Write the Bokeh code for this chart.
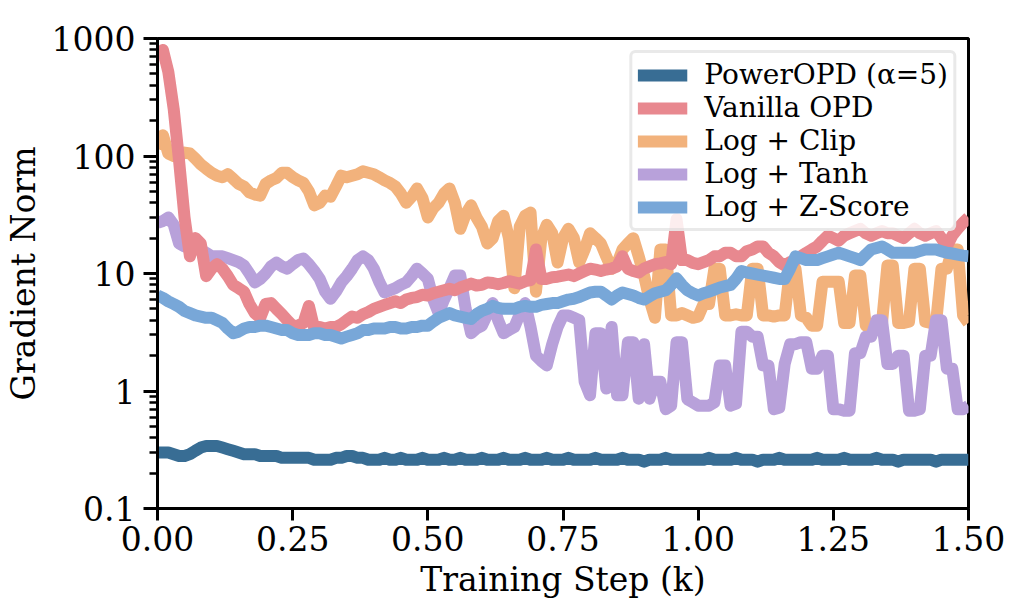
import numpy as np
from bokeh.plotting import figure
from bokeh.models import (FixedTicker, CustomJSTickFormatter, Legend, LegendItem,
                          Range1d, ColumnDataSource)
from bokeh.embed import file_html
from bokeh.resources import INLINE

# ---- data (training step in thousands, gradient norm), one value per 0.01k ----
steps = np.round(np.arange(151) * 0.01, 2)

power_opd = [0.30, 0.30, 0.30, 0.29, 0.28, 0.28, 0.29, 0.31, 0.33, 0.34,
             0.34, 0.34, 0.33, 0.32, 0.31, 0.30, 0.29, 0.29, 0.29, 0.28,
             0.28, 0.28, 0.28, 0.27, 0.27, 0.27, 0.27, 0.27, 0.27, 0.26,
             0.26, 0.26, 0.26, 0.27, 0.27, 0.28, 0.28, 0.27, 0.27, 0.26,
             0.26, 0.26, 0.27, 0.26, 0.26, 0.27, 0.26, 0.26, 0.26, 0.27,
             0.26, 0.26, 0.26, 0.27, 0.26, 0.26, 0.27, 0.26, 0.26, 0.26,
             0.27, 0.26, 0.26, 0.26, 0.27, 0.26, 0.26, 0.26, 0.27, 0.26,
             0.26, 0.26, 0.27, 0.26, 0.26, 0.26, 0.27, 0.26, 0.26, 0.26,
             0.26, 0.27, 0.26, 0.26, 0.26, 0.26, 0.27, 0.26, 0.26, 0.26,
             0.25, 0.26, 0.26, 0.26, 0.27, 0.26, 0.26, 0.26, 0.26, 0.26,
             0.26, 0.26, 0.27, 0.26, 0.26, 0.26, 0.26, 0.27, 0.26, 0.26,
             0.26, 0.25, 0.26, 0.26, 0.26, 0.27, 0.26, 0.26, 0.26, 0.26,
             0.26, 0.26, 0.27, 0.26, 0.26, 0.26, 0.26, 0.27, 0.26, 0.26,
             0.26, 0.26, 0.26, 0.27, 0.26, 0.26, 0.26, 0.25, 0.26, 0.26,
             0.26, 0.26, 0.26, 0.26, 0.25, 0.26, 0.26, 0.26, 0.26, 0.26,
             0.26]

vanilla_opd = [700, 800, 520, 250, 90, 30, 14, 20, 18, 9.5,
               11, 12, 11, 9.5, 8, 7.5, 7, 5.5, 4.6, 4.2,
               5.5, 5.6, 5.0, 4.5, 4.0, 3.6, 3.6, 3.8, 5.3, 3.4,
               3.5, 3.4, 3.5, 3.5, 3.7, 4.0, 4.3, 4.2, 4.5, 4.7,
               5.0, 5.2, 5.4, 5.6, 5.8, 5.6, 6.0, 6.2, 6.3, 6.6,
               6.5, 6.8, 7.0, 7.2, 7.4, 7.2, 7.6, 7.9, 8.2, 7.9,
               8.0, 8.4, 8.3, 8.1, 8.3, 8.6, 8.4, 8.2, 8.6, 8.8,
               16, 9.0, 9.0, 9.3, 9.4, 9.6, 9.8, 9.5, 10, 10.5,
               11, 10.8, 10.5, 10.8, 11, 11.5, 14, 11, 10.5, 10.2,
               11, 11.5, 12, 12.2, 12.5, 12, 29, 13, 13, 12.3,
               12, 12.5, 13, 14, 14, 15, 15, 14, 14, 15.5,
               16, 17, 17, 15, 14, 12.5, 11.7, 12.5, 13, 14,
               15, 16, 17, 19, 21, 20, 19, 21, 22, 23,
               24, 22, 21, 22, 23, 22, 22, 21, 20, 22,
               24, 22, 21, 22, 23, 20, 17, 21, 24, 27,
               30]

log_clip = [115, 150, 105, 100, 100, 107, 105, 95, 85, 78,
            72, 68, 66, 70, 64, 58, 55, 49, 47, 46,
            58, 62, 65, 72, 72, 66, 62, 59, 50, 38,
            40, 46, 45, 55, 68, 66, 68, 70, 74, 72,
            70, 66, 62, 59, 55, 48, 40, 45, 53, 44,
            30, 36, 40, 48, 53, 40, 24, 32, 38, 30,
            25, 18, 20, 28, 31, 20, 7.5, 25, 31, 33,
            7.0, 20, 26, 22, 12.4, 20, 24, 20, 12.4, 16,
            22, 20, 18, 14, 11, 12, 16, 18, 20, 14,
            9.6, 6, 4.2, 16, 16, 4.4, 4.4, 4.6, 4.4, 4.2,
            4.3, 5.5, 5.5, 11, 11, 4.4, 4.4, 4.5, 4.4, 4.4,
            11, 11, 4.4, 4.4, 4.3, 4.4, 4.4, 11, 11, 4.4,
            4.2, 3.6, 3.6, 8.5, 8.5, 8.5, 8.5, 3.8, 3.8, 9.6,
            9.6, 3.6, 3.6, 3.8, 3.8, 11.7, 11.7, 3.8, 3.8, 3.9,
            11, 11, 3.9, 3.8, 3.8, 11, 11, 16, 16, 4.4,
            3.8]

log_tanh = [27, 28, 30, 26, 18, 17, 17, 17, 16, 15,
            14, 14, 14, 13.5, 13, 12.5, 11.7, 10, 8.4, 9,
            10, 11.5, 12.4, 11.5, 11, 12, 13, 13.4, 12, 10.5,
            9, 7, 6.1, 7, 8.4, 9.5, 11, 13, 14, 13,
            11, 8.5, 6.9, 7.2, 7.5, 8, 8.4, 9.5, 11, 10,
            9, 6, 4.6, 6, 7.5, 9.6, 9.6, 5, 3.1, 3.4,
            3.6, 4.5, 5.6, 4, 3.1, 3.3, 3.5, 4.5, 5.6, 3.5,
            2.0, 1.8, 1.65, 2.5, 3.5, 4.4, 4.4, 4.2, 4.0, 1.2,
            0.92, 3.1, 3.1, 1.05, 3.5, 0.92, 0.92, 2.6, 2.6, 0.86,
            2.5, 0.86, 1.2, 1.2, 0.7, 0.75, 2.6, 2.6, 0.85, 0.8,
            0.75, 0.75, 0.75, 0.8, 1.65, 1.65, 0.75, 0.78, 3.2, 3.2,
            2.9, 2.9, 1.65, 1.65, 0.7, 0.72, 1.7, 2.5, 2.5, 2.6,
            2.6, 1.55, 1.55, 2.0, 2.0, 0.7, 0.7, 0.68, 0.68, 2.1,
            2.1, 2.9, 2.9, 4.0, 4.0, 1.7, 1.7, 2.0, 2.0, 0.68,
            0.68, 0.7, 2.0, 2.0, 4.0, 4.0, 1.55, 1.55, 0.7, 0.7,
            0.75]

log_zscore = [6.5, 6.2, 5.8, 5.5, 5.2, 4.8, 4.6, 4.4, 4.3, 4.2,
              4.2, 4.0, 3.8, 3.4, 3.1, 3.2, 3.4, 3.5, 3.5, 3.6,
              3.6, 3.5, 3.4, 3.3, 3.3, 3.1, 3.0, 3.0, 3.0, 3.1,
              3.1, 3.0, 3.0, 2.9, 2.8, 2.9, 3.0, 3.1, 3.3, 3.3,
              3.4, 3.4, 3.4, 3.5, 3.5, 3.4, 3.4, 3.5, 3.5, 3.6,
              3.6, 3.9, 4.2, 4.4, 4.6, 4.4, 4.3, 4.2, 4.1, 4.5,
              4.8, 5.0, 5.3, 5.1, 5.0, 5.0, 5.0, 5.2, 5.3, 5.2,
              5.2, 5.4, 5.5, 5.6, 5.6, 5.8, 6.0, 6.1, 6.3, 6.6,
              6.9, 7.0, 7.0, 6.5, 6.0, 6.5, 6.9, 6.7, 6.5, 6.2,
              6.0, 6.4, 6.8, 7.0, 7.2, 8.0, 9.1, 8.0, 7.2, 6.8,
              6.5, 6.8, 7.0, 7.3, 7.6, 7.8, 8.0, 9.0, 10.5, 10.2,
              10, 9.8, 9.6, 9.4, 9.2, 9.0, 9.0, 11, 14, 13.5,
              13, 13, 13, 13.5, 14, 14.5, 15, 14.5, 14, 13.5,
              13, 14.5, 16, 16.5, 17, 16, 15, 15, 15, 15,
              15, 15.5, 16, 16, 16, 15.5, 15, 14.8, 14.5, 14.2,
              14]

labels = ["PowerOPD (\u03b1=5)", "Vanilla OPD", "Log + Clip", "Log + Tanh", "Log + Z-Score"]
colors = ["#386d94", "#e8888f", "#f2b27c", "#b8a1da", "#78a7d8"]
series = [power_opd, vanilla_opd, log_clip, log_tanh, log_zscore]

x_ticks = [0.0, 0.25, 0.5, 0.75, 1.0, 1.25, 1.5]
y_ticks = [0.1, 1, 10, 100, 1000]

FONT = "DejaVu Serif"

p = figure(width=1014, height=607, y_axis_type="log",
           x_range=Range1d(0, 1.5), y_range=Range1d(0.1, 1000),
           output_backend="svg", toolbar_location=None,
           min_border_left=157, min_border_right=46,
           min_border_top=38, min_border_bottom=99)

p.background_fill_color = "white"
p.border_fill_color = "white"
p.outline_line_color = "black"
p.outline_line_width = 3
p.outline_line_alpha = 1
p.xgrid.visible = False
p.ygrid.visible = False

# draw order: clip, tanh, vanilla, zscore, power on top
draw_order = [2, 3, 1, 4, 0]
renderers = {}
for i in draw_order:
    src = ColumnDataSource(dict(x=steps, y=series[i]))
    r = p.line("x", "y", source=src, line_color=colors[i], line_width=12,
               line_join="round", line_cap="butt")
    renderers[i] = r

items = [LegendItem(label=labels[i], renderers=[renderers[i]]) for i in range(5)]
legend = Legend(items=items, location="top_right")
legend.label_text_font = FONT
legend.label_text_font_size = "28px"
legend.label_text_color = "black"
legend.glyph_width = 50
legend.glyph_height = 20
legend.label_height = 20
legend.spacing = -2
legend.label_standoff = 17
legend.padding = 5
legend.margin = 12
legend.border_line_color = "#d4d4d4"
legend.border_line_width = 3
legend.background_fill_color = "white"
legend.background_fill_alpha = 0.85
if "border_radius" in Legend.properties():
    legend.border_radius = 6
p.add_layout(legend, "center")

# x axis
xa = p.xaxis[0]
xa.ticker = FixedTicker(ticks=x_ticks)
xa.formatter = CustomJSTickFormatter(code="return tick.toFixed(2);")
xa.axis_label = "Training Step (k)"
xa.axis_label_text_font = FONT
xa.axis_label_text_font_size = "33px"
xa.axis_label_text_font_style = "normal"
xa.axis_label_text_color = "black"
xa.axis_label_standoff = 6
xa.major_label_text_font = FONT
xa.major_label_text_font_size = "33px"
xa.major_label_text_color = "black"
xa.major_label_standoff = 5
xa.axis_line_width = 3
xa.major_tick_line_width = 3
xa.major_tick_out = 12
xa.major_tick_in = 0
xa.minor_tick_line_color = None

# y axis
minor = [m * d for d in [0.1, 1, 10, 100] for m in range(2, 10)]
ya = p.yaxis[0]
ya.ticker = FixedTicker(ticks=y_ticks, minor_ticks=minor)
ya.formatter = CustomJSTickFormatter(code="return tick >= 1 ? tick.toFixed(0) : tick.toFixed(1);")
ya.axis_label = "Gradient Norm"
ya.axis_label_text_font = FONT
ya.axis_label_text_font_size = "33px"
ya.axis_label_text_font_style = "normal"
ya.axis_label_text_color = "black"
ya.axis_label_standoff = 6
ya.major_label_text_font = FONT
ya.major_label_text_font_size = "33px"
ya.major_label_text_color = "black"
ya.major_label_standoff = 8
ya.axis_line_width = 3
ya.major_tick_line_width = 3
ya.major_tick_out = 14
ya.major_tick_in = 0
ya.minor_tick_line_width = 2.5
ya.minor_tick_out = 8
ya.minor_tick_in = 0

open("out.html", "w").write(file_html(p, INLINE))
